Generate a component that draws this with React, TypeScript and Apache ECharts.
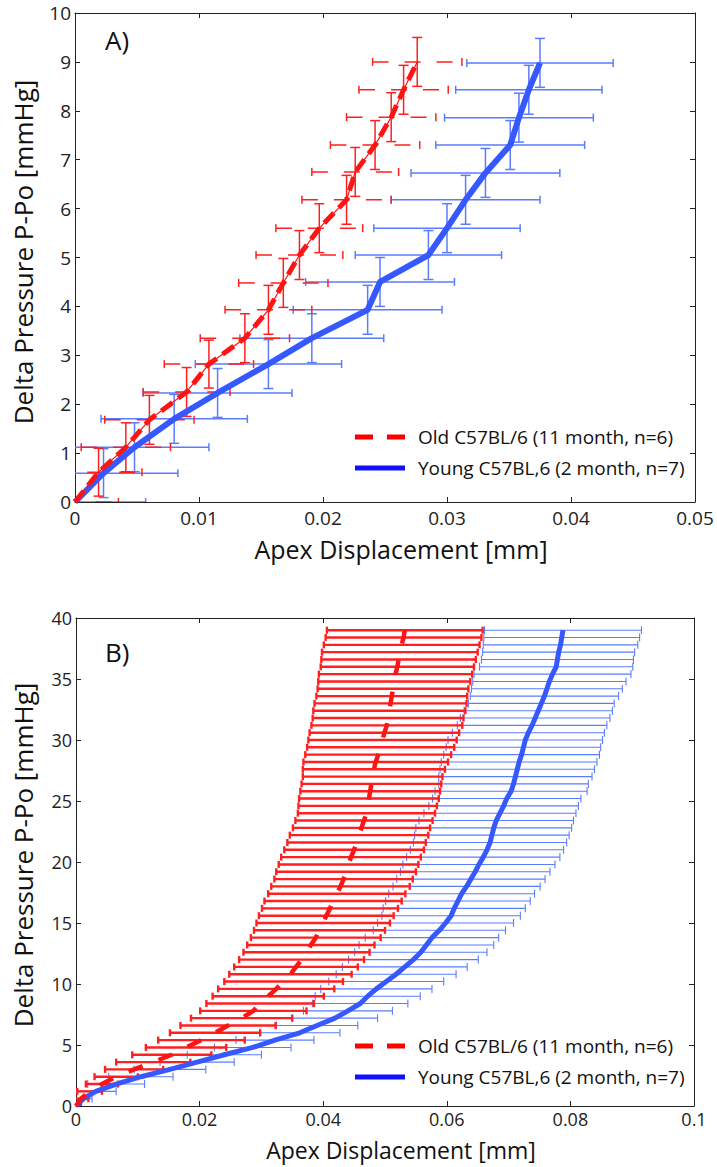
import React, { useEffect, useRef } from "react";
import * as echarts from "echarts";

// ---------- Panel A data (pressure in mmHg, displacement in mm) ----------
const A_OLD_P = [0, 0.61, 1.12, 1.68, 2.25, 2.82, 3.35, 3.93, 4.48, 5.05, 5.6, 6.18, 6.75, 7.3, 7.87, 8.43, 9.0];
const A_OLD_D = [0, 0.0019, 0.0041, 0.006, 0.009, 0.0108, 0.0137, 0.0156, 0.0168, 0.0181, 0.0197, 0.0219, 0.0226, 0.0242, 0.0255, 0.0265, 0.0276];
const A_OLD_DERR = [0.0035, 0.0035, 0.0036, 0.0036, 0.0035, 0.0036, 0.0036, 0.0035, 0.0036, 0.0035, 0.0035, 0.0036, 0.0035, 0.0036, 0.0036, 0.0036, 0.0036];
const A_OLD_PERR = [0, 0.49, 0.5, 0.5, 0.5, 0.49, 0.5, 0.5, 0.5, 0.5, 0.5, 0.5, 0.5, 0.5, 0.5, 0.5, 0.5];

const A_YOUNG_P = [0, 0.59, 1.12, 1.7, 2.23, 2.82, 3.35, 3.93, 4.5, 5.05, 5.6, 6.18, 6.73, 7.3, 7.86, 8.43, 8.98];
const A_YOUNG_D = [0, 0.0023, 0.0048, 0.008, 0.0115, 0.0156, 0.0191, 0.0236, 0.0246, 0.0285, 0.03, 0.0315, 0.0331, 0.0351, 0.0358, 0.0366, 0.0375];
const A_YOUNG_DERR = [0.0057, 0.006, 0.006, 0.0059, 0.006, 0.0059, 0.0058, 0.006, 0.006, 0.0059, 0.0059, 0.006, 0.006, 0.006, 0.006, 0.0059, 0.0059];
const A_YOUNG_PERR = [0, 0.5, 0.5, 0.5, 0.5, 0.5, 0.5, 0.5, 0.5, 0.5, 0.5, 0.5, 0.5, 0.5, 0.5, 0.5, 0.5];

// ---------- Panel B data ----------
const B_P = [
  0, 0.6, 1.2, 1.8, 2.4, 3.0, 3.6, 4.2, 4.8, 5.4, 6.0, 6.6, 7.2, 7.8, 8.4, 9.0, 9.6, 10.2, 10.8, 11.4,
  12.0, 12.6, 13.2, 13.8, 14.4, 15.0, 15.6, 16.2, 16.8, 17.4, 18.0, 18.6, 19.2, 19.8, 20.4, 21.0, 21.6, 22.2, 22.8, 23.4,
  24.0, 24.6, 25.2, 25.8, 26.4, 27.0, 27.6, 28.2, 28.8, 29.4, 30.0, 30.6, 31.2, 31.8, 32.4, 33.0, 33.6, 34.2, 34.8, 35.4,
  36.0, 36.6, 37.2, 37.8, 38.4, 39.0,
];
const B_OLD_D = [
  0, 0.0008, 0.0022, 0.0042, 0.0065, 0.0094, 0.0125, 0.0155, 0.0178, 0.0203, 0.0225, 0.0246, 0.0268, 0.0287, 0.0298, 0.0311, 0.0324, 0.0336, 0.0347, 0.0356,
  0.0365, 0.0373, 0.038, 0.0388, 0.0394, 0.04, 0.0405, 0.0411, 0.0416, 0.0422, 0.0428, 0.0433, 0.0437, 0.0441, 0.0445, 0.045, 0.0454, 0.0458, 0.0462, 0.0466,
  0.047, 0.0472, 0.0474, 0.0476, 0.0478, 0.048, 0.0482, 0.0485, 0.0489, 0.0493, 0.0496, 0.0499, 0.0503, 0.0505, 0.0507, 0.0509, 0.0511, 0.0513, 0.0515, 0.0517,
  0.052, 0.0522, 0.0524, 0.0527, 0.053, 0.0532,
];
const B_OLD_DERR = [
  0.0008, 0.0012, 0.002, 0.0026, 0.0035, 0.0047, 0.006, 0.0064, 0.0065, 0.007, 0.0073, 0.0077, 0.0082, 0.0086, 0.0087, 0.009, 0.0094, 0.0096, 0.0099, 0.01,
  0.0101, 0.0102, 0.0103, 0.0105, 0.0106, 0.0108, 0.0109, 0.011, 0.0111, 0.0111, 0.0112, 0.0112, 0.0113, 0.0113, 0.0113, 0.0113, 0.0112, 0.0112, 0.0111, 0.0111,
  0.0111, 0.0112, 0.0113, 0.0113, 0.0113, 0.0113, 0.0115, 0.0117, 0.0118, 0.0119, 0.012, 0.0121, 0.0122, 0.0122, 0.0123, 0.0123, 0.0122, 0.0122, 0.0123, 0.0124,
  0.0124, 0.0125, 0.0126, 0.0126, 0.0126, 0.0126,
];
const B_YOUNG_D = [
  0, 0.0012, 0.0032, 0.0065, 0.0105, 0.0152, 0.0196, 0.024, 0.0286, 0.0322, 0.0362, 0.039, 0.0419, 0.044, 0.046, 0.0472, 0.0486, 0.0502, 0.0518, 0.0532,
  0.0546, 0.0558, 0.0567, 0.0576, 0.0588, 0.0598, 0.0607, 0.0612, 0.0618, 0.0624, 0.0632, 0.0639, 0.0646, 0.0652, 0.0659, 0.0665, 0.067, 0.0673, 0.0676, 0.068,
  0.0686, 0.0692, 0.0697, 0.0704, 0.0708, 0.0711, 0.0714, 0.0717, 0.0721, 0.0724, 0.0727, 0.0732, 0.0738, 0.0743, 0.0748, 0.0753, 0.0758, 0.0762, 0.0766, 0.0771,
  0.0777, 0.0779, 0.0781, 0.0784, 0.0786, 0.0788,
];
const B_YOUNG_DERR = [
  0.0008, 0.0014, 0.0033, 0.0046, 0.0052, 0.0058, 0.006, 0.006, 0.0062, 0.0063, 0.0065, 0.0066, 0.0069, 0.0072, 0.0077, 0.0085, 0.009, 0.0093, 0.0097, 0.0101,
  0.0105, 0.0107, 0.0109, 0.0108, 0.0107, 0.011, 0.0112, 0.0115, 0.0117, 0.0118, 0.0119, 0.012, 0.0121, 0.0123, 0.0124, 0.0124, 0.0124, 0.0125, 0.0126, 0.0125,
  0.0123, 0.0121, 0.012, 0.0123, 0.0121, 0.0124, 0.0125, 0.0126, 0.0126, 0.0125, 0.0125, 0.0123, 0.0121, 0.0121, 0.012, 0.0118, 0.012, 0.0122, 0.0124, 0.0127,
  0.0124, 0.0123, 0.0123, 0.0125, 0.0126, 0.0127,
];

// ---------- Texts ----------
const X_TITLE = "Apex Displacement [mm]";
const Y_TITLE = "Delta Pressure P-Po [mmHg]";
const LEGEND_OLD = "Old C57BL/6 (11 month, n=6)";
const LEGEND_YOUNG = "Young C57BL,6 (2 month, n=7)";
const PANEL_LABELS = ["A)", "B)"];

const FONT = "'Open Sans', 'DejaVu Sans', sans-serif";
const RED = "#ff1414";
const RED_BAR = "#ff1f1f";
const BLUE = "#3658ff";
const BLUE_BAR = "#5a7cff";
const AXIS = "#222";

type ErrOpts = {
  color: string;
  hWidth: number;
  vWidth: number;
  hCap: number;
  vCap: number;
  hDash?: number[] | null;
};

function errRender(o: ErrOpts) {
  return (params: any, api: any) => {
    const x = api.value(0);
    const y = api.value(1);
    const ex = api.value(2);
    const ey = api.value(3);
    const c = api.coord([x, y]);
    const children: any[] = [];
    const hs = { stroke: o.color, lineWidth: o.hWidth, lineDash: o.hDash || null, fill: null };
    const hc = { stroke: o.color, lineWidth: o.hWidth, fill: null };
    const vs = { stroke: o.color, lineWidth: o.vWidth, fill: null };
    if (ex > 0) {
      const l = api.coord([x - ex, y]);
      const r = api.coord([x + ex, y]);
      children.push({ type: "line", shape: { x1: l[0], y1: c[1], x2: r[0], y2: c[1] }, style: hs });
      children.push({ type: "line", shape: { x1: l[0], y1: c[1] - o.hCap, x2: l[0], y2: c[1] + o.hCap }, style: hc });
      children.push({ type: "line", shape: { x1: r[0], y1: c[1] - o.hCap, x2: r[0], y2: c[1] + o.hCap }, style: hc });
    }
    if (ey > 0) {
      const t = api.coord([x, y + ey]);
      const b = api.coord([x, y - ey]);
      children.push({ type: "line", shape: { x1: c[0], y1: t[1], x2: c[0], y2: b[1] }, style: vs });
      children.push({ type: "line", shape: { x1: c[0] - o.vCap, y1: t[1], x2: c[0] + o.vCap, y2: t[1] }, style: vs });
      children.push({ type: "line", shape: { x1: c[0] - o.vCap, y1: b[1], x2: c[0] + o.vCap, y2: b[1] }, style: vs });
    }
    return { type: "group", children };
  };
}

function makeAxes(gi: number, xMax: number, xInt: number, yMax: number, yInt: number, fs: number, xMargin: number) {
  const common = {
    gridIndex: gi,
    type: "value",
    splitLine: { show: false },
    axisLine: { show: true, onZero: false, lineStyle: { color: AXIS, width: 1 } },
    axisTick: { show: true, inside: true, length: 5, lineStyle: { color: AXIS, width: 1 } },
  };
  const lbl = { fontFamily: FONT, fontSize: fs, color: AXIS, showMinLabel: true, showMaxLabel: true };
  const xa = [
    {
      ...common, min: 0, max: xMax, interval: xInt, position: "bottom",
      axisLabel: { ...lbl, margin: xMargin, formatter: (v: number) => String(Number(v.toFixed(4))) },
    },
    { ...common, min: 0, max: xMax, interval: xInt, position: "top", axisLabel: { show: false } },
  ];
  const ya = [
    { ...common, min: 0, max: yMax, interval: yInt, position: "left", axisLabel: { ...lbl, margin: 4 } },
    { ...common, min: 0, max: yMax, interval: yInt, position: "right", axisLabel: { show: false } },
  ];
  return { xa, ya };
}

function pairs(d: number[], p: number[]) {
  return d.map((v, i) => [v, p[i]]);
}
function quads(d: number[], p: number[], de: number[], pe: number[] | null) {
  return d.map((v, i) => [v, p[i], de[i], pe ? pe[i] : 0]);
}

function legendGraphics(yOld: number, yYoung: number) {
  return [
    { type: "line", shape: { x1: 355, y1: yOld, x2: 405, y2: yOld }, style: { stroke: "#ff0000", lineWidth: 5, lineDash: [18, 14] } },
    { type: "line", shape: { x1: 355, y1: yYoung, x2: 405, y2: yYoung }, style: { stroke: "#1010ff", lineWidth: 5 } },
    { type: "text", x: 418, y: yOld, style: { text: LEGEND_OLD, font: `19px ${FONT}`, fill: "#111", textAlign: "left", textVerticalAlign: "middle" } },
    { type: "text", x: 418, y: yYoung, style: { text: LEGEND_YOUNG, font: `19px ${FONT}`, fill: "#111", textAlign: "left", textVerticalAlign: "middle" } },
  ];
}

export default function App() {
  const ref = useRef<HTMLDivElement>(null);
  useEffect(() => {
    document.body.style.margin = "0";
    if (!ref.current) return;
    const chart = echarts.init(ref.current, null, { renderer: "svg" });
    const a = makeAxes(0, 0.05, 0.01, 10, 1, 19, 6);
    const b = makeAxes(1, 0.1, 0.02, 40, 5, 18, 4);

    const option: any = {
      animation: false,
      backgroundColor: "#fff",
      grid: [
        { left: 75, top: 13, width: 620, height: 489 },
        { left: 76, top: 618, width: 618, height: 488 },
      ],
      xAxis: [...a.xa, ...b.xa],
      yAxis: [...a.ya, ...b.ya],
      series: [
        // Panel A
        {
          type: "custom", name: "A young err", xAxisIndex: 0, yAxisIndex: 0, clip: true,
          renderItem: errRender({ color: BLUE_BAR, hWidth: 1.5, vWidth: 1.5, hCap: 4, vCap: 5 }),
          data: quads(A_YOUNG_D, A_YOUNG_P, A_YOUNG_DERR, A_YOUNG_PERR),
          encode: { x: 0, y: 1 }, z: 2,
        },
        {
          type: "custom", name: "A old err", xAxisIndex: 0, yAxisIndex: 0, clip: true,
          renderItem: errRender({ color: RED_BAR, hWidth: 1.5, vWidth: 1.5, hCap: 4, vCap: 5, hDash: [16, 16] }),
          data: quads(A_OLD_D, A_OLD_P, A_OLD_DERR, A_OLD_PERR),
          encode: { x: 0, y: 1 }, z: 2,
        },
        {
          type: "line", name: "A young", xAxisIndex: 0, yAxisIndex: 0, symbol: "none", z: 3,
          data: pairs(A_YOUNG_D, A_YOUNG_P),
          lineStyle: { color: BLUE, width: 6, join: "round" },
        },
        {
          type: "line", name: "A old thin", xAxisIndex: 0, yAxisIndex: 0, symbol: "none", z: 4,
          data: pairs(A_OLD_D, A_OLD_P),
          lineStyle: { color: RED, width: 1.2 },
        },
        {
          type: "line", name: "A old", xAxisIndex: 0, yAxisIndex: 0, symbol: "none", z: 4,
          data: pairs(A_OLD_D, A_OLD_P),
          lineStyle: { color: RED, width: 5, type: [14, 7] },
        },
        // Panel B
        {
          type: "custom", name: "B young err", xAxisIndex: 2, yAxisIndex: 2, clip: true,
          renderItem: errRender({ color: BLUE_BAR, hWidth: 1.1, vWidth: 1.1, hCap: 4, vCap: 4 }),
          data: quads(B_YOUNG_D, B_P, B_YOUNG_DERR, null),
          encode: { x: 0, y: 1 }, z: 2,
        },
        {
          type: "custom", name: "B old err", xAxisIndex: 2, yAxisIndex: 2, clip: true,
          renderItem: errRender({ color: RED_BAR, hWidth: 2.4, vWidth: 2.4, hCap: 3.5, vCap: 3 }),
          data: quads(B_OLD_D, B_P, B_OLD_DERR, null),
          encode: { x: 0, y: 1 }, z: 2,
        },
        {
          type: "line", name: "B young", xAxisIndex: 2, yAxisIndex: 2, symbol: "none", z: 3,
          data: pairs(B_YOUNG_D, B_P),
          lineStyle: { color: BLUE, width: 5, join: "round" },
        },
        {
          type: "line", name: "B old", xAxisIndex: 2, yAxisIndex: 2, symbol: "none", z: 4,
          data: pairs(B_OLD_D, B_P),
          lineStyle: { color: RED, width: 4.5, type: [15, 17] },
        },
      ],
      graphic: [
        { type: "text", x: 105, y: 40, style: { text: PANEL_LABELS[0], font: `26px ${FONT}`, fill: "#111", textAlign: "left", textVerticalAlign: "middle" } },
        { type: "text", x: 105, y: 652, style: { text: PANEL_LABELS[1], font: `26px ${FONT}`, fill: "#111", textAlign: "left", textVerticalAlign: "middle" } },
        { type: "text", x: 401, y: 549, style: { text: X_TITLE, font: `25px ${FONT}`, fill: "#111", textAlign: "center", textVerticalAlign: "middle" } },
        { type: "text", x: 401, y: 1150, style: { text: X_TITLE, font: `23px ${FONT}`, fill: "#111", textAlign: "center", textVerticalAlign: "middle" } },
        { type: "text", x: 23, y: 252, rotation: Math.PI / 2, style: { text: Y_TITLE, font: `26px ${FONT}`, fill: "#111", textAlign: "center", textVerticalAlign: "middle" } },
        { type: "text", x: 23, y: 855, rotation: Math.PI / 2, style: { text: Y_TITLE, font: `26px ${FONT}`, fill: "#111", textAlign: "center", textVerticalAlign: "middle" } },
        ...legendGraphics(437, 468),
        ...legendGraphics(1046, 1077),
      ],
    };
    chart.setOption(option);
    return () => chart.dispose();
  }, []);
  return <div ref={ref} style={{ width: 717, height: 1167 }} />;
}
